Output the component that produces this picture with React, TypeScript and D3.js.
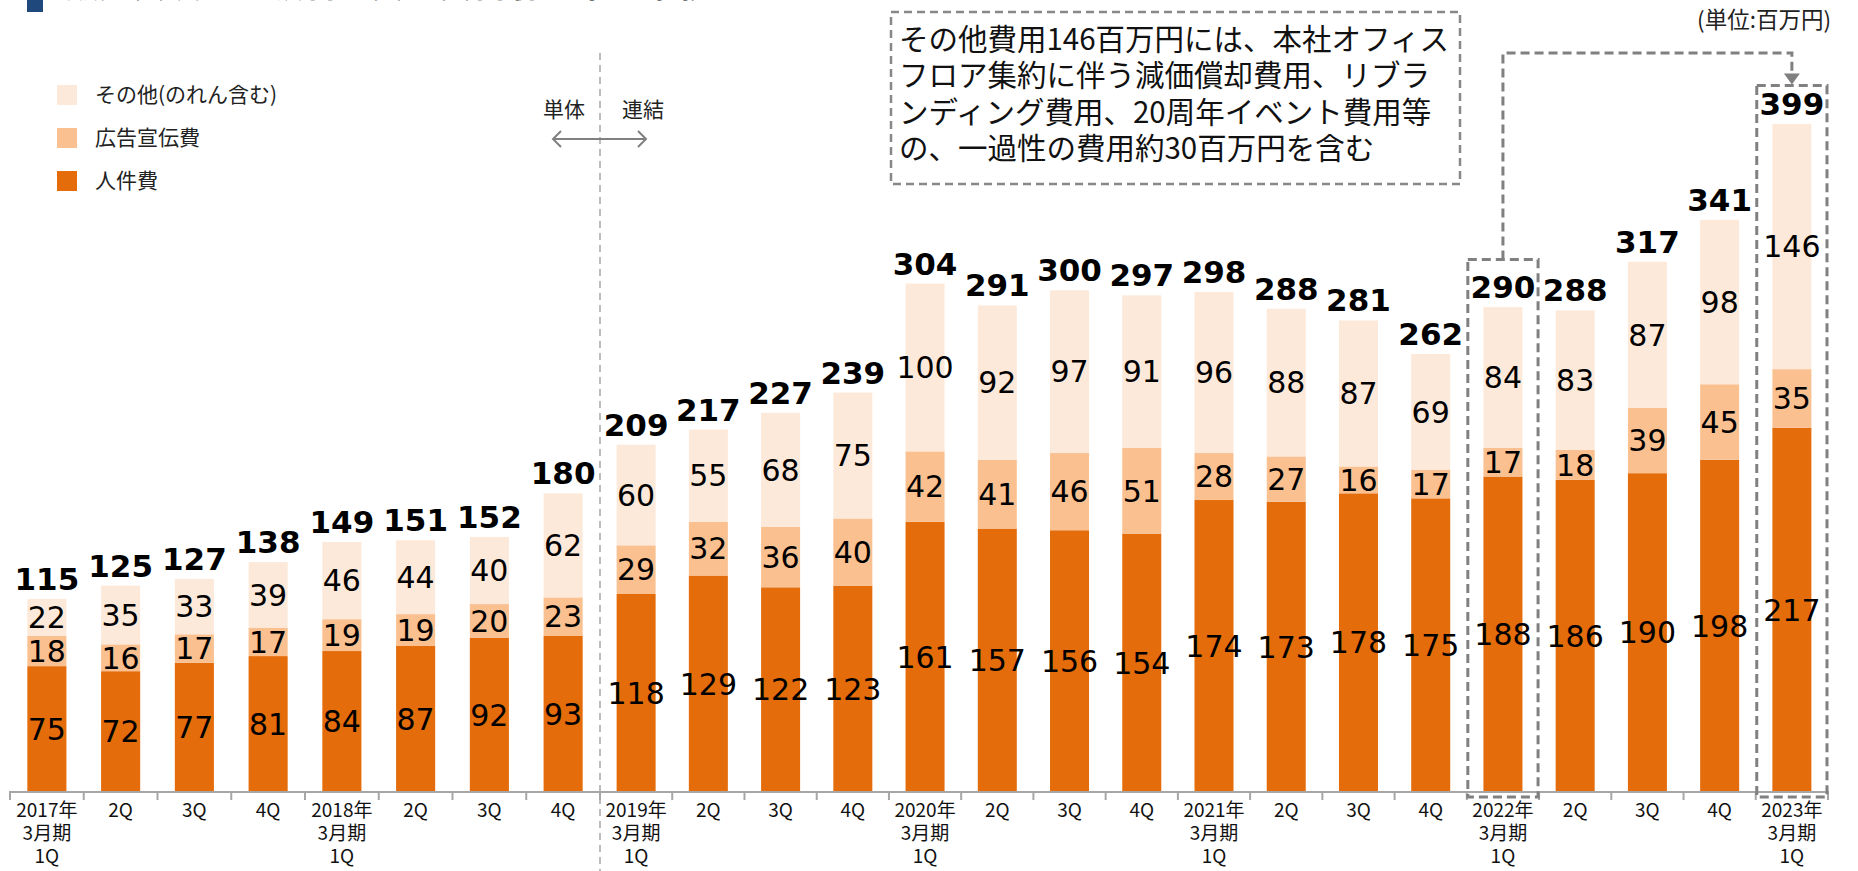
import * as d3 from 'd3';
import React, { useEffect, useRef } from 'react';

// 四半期ラベル(改行は \n)
const periods = [
  '2017年\n3月期\n1Q', '2Q', '3Q', '4Q',
  '2018年\n3月期\n1Q', '2Q', '3Q', '4Q',
  '2019年\n3月期\n1Q', '2Q', '3Q', '4Q',
  '2020年\n3月期\n1Q', '2Q', '3Q', '4Q',
  '2021年\n3月期\n1Q', '2Q', '3Q', '4Q',
  '2022年\n3月期\n1Q', '2Q', '3Q', '4Q',
  '2023年\n3月期\n1Q'
];

const personnel = [75, 72, 77, 81, 84, 87, 92, 93, 118, 129, 122, 123, 161, 157, 156, 154, 174, 173, 178, 175, 188, 186, 190, 198, 217];
const advertising = [18, 16, 17, 17, 19, 19, 20, 23, 29, 32, 36, 40, 42, 41, 46, 51, 28, 27, 16, 17, 17, 18, 39, 45, 35];
const others = [22, 35, 33, 39, 46, 44, 40, 62, 60, 55, 68, 75, 100, 92, 97, 91, 96, 88, 87, 69, 84, 83, 87, 98, 146];
const totals = [115, 125, 127, 138, 149, 151, 152, 180, 209, 217, 227, 239, 304, 291, 300, 297, 298, 288, 281, 262, 290, 288, 317, 341, 399];

const seriesNames = ['人件費', '広告宣伝費', 'その他(のれん含む)'];
const colors = ['#E46C0A', '#FAC090', '#FDE9D9'];

const noteLines = [
  'その他費用146百万円には、本社オフィス',
  'フロア集約に伴う減価償却費用、リブラ',
  'ンディング費用、20周年イベント費用等',
  'の、一過性の費用約30百万円を含む'
];

const soloCount = 8; // 単体の期間数
const jp = '"Noto Sans CJK JP", "Noto Sans", sans-serif';
const num = '"DejaVu Sans", Verdana, sans-serif';

export default function App() {
  const ref = useRef<SVGSVGElement>(null);

  const width = 1858;
  const height = 871;
  const baseY = 792;

  useEffect(() => {
    const svg = d3.select(ref.current);
    svg.selectAll('*').remove();

    const idx = periods.map((_, i) => String(i));
    // 単体と連結で棒の間隔が少し違う
    const xSolo = d3.scaleBand().domain(idx.slice(0, soloCount)).range([10, 600]).paddingInner(0.47).paddingOuter(0.235);
    const xCons = d3.scaleBand().domain(idx.slice(soloCount)).range([600, 1828]).paddingInner(0.46).paddingOuter(0.23);
    const xs = (i: number) => (i < soloCount ? xSolo : xCons);
    const bw = (i: number) => xs(i).bandwidth();
    const left = (i: number) => xs(i)(String(i)) as number;
    const cx = (i: number) => left(i) + bw(i) / 2;
    const bandStart = (i: number) => left(i) - (xs(i).step() * xs(i).paddingInner()) / 2;

    const y = d3.scaleLinear().domain([0, 400]).range([baseY, baseY - 400 * 1.678]);

    const table = periods.map((p, i) => ({ i, a: personnel[i], b: advertising[i], c: others[i] }));
    const stack = d3.stack<any>().keys(['a', 'b', 'c'])(table);

    // 棒
    stack.forEach((layer, k) => {
      svg.append('g')
        .selectAll('rect')
        .data(layer)
        .enter().append('rect')
        .attr('x', (d: any) => left(d.data.i))
        .attr('width', (d: any) => bw(d.data.i))
        .attr('y', (d: any) => y(d[1]))
        .attr('height', (d: any) => y(d[0]) - y(d[1]))
        .attr('fill', colors[k]);
    });

    // 内訳ラベル
    stack.forEach((layer) => {
      svg.append('g')
        .selectAll('text')
        .data(layer)
        .enter().append('text')
        .attr('x', (d: any) => cx(d.data.i))
        .attr('y', (d: any) => (y(d[0]) + y(d[1])) / 2)
        .attr('dy', '0.36em')
        .attr('text-anchor', 'middle')
        .attr('font-family', num)
        .attr('font-size', 30)
        .attr('fill', '#000')
        .text((d: any) => d[1] - d[0]);
    });

    // 合計ラベル
    svg.append('g')
      .selectAll('text')
      .data(totals)
      .enter().append('text')
      .attr('x', (d, i) => cx(i))
      .attr('y', (d, i) => y(stack[2][i][1]) - 9)
      .attr('text-anchor', 'middle')
      .attr('font-family', num)
      .attr('font-weight', 'bold')
      .attr('font-size', 31)
      .attr('fill', '#000')
      .text(d => d);

    // 軸
    const axis = svg.append('g').attr('stroke', '#a6a6a6').attr('stroke-width', 2);
    axis.append('line').attr('x1', 9).attr('x2', 1829).attr('y1', baseY).attr('y2', baseY);
    periods.forEach((p, i) => {
      axis.append('line').attr('x1', bandStart(i)).attr('x2', bandStart(i)).attr('y1', baseY).attr('y2', baseY + 8);
    });
    axis.append('line').attr('x1', 1828).attr('x2', 1828).attr('y1', baseY).attr('y2', baseY + 8);

    periods.forEach((p, i) => {
      p.split('\n').forEach((line, j) => {
        svg.append('text')
          .attr('x', cx(i))
          .attr('y', 817 + j * 23)
          .attr('text-anchor', 'middle')
          .attr('font-family', jp)
          .attr('font-size', 19)
          .attr('fill', '#111')
          .text(line);
      });
    });

    // 単体/連結の区切り
    svg.append('line')
      .attr('x1', 600).attr('x2', 600).attr('y1', 53).attr('y2', height)
      .attr('stroke', '#a6a6a6').attr('stroke-width', 1.5).attr('stroke-dasharray', '7,5');
    svg.append('text').attr('x', 564).attr('y', 117).attr('text-anchor', 'middle')
      .attr('font-family', jp).attr('font-size', 21).attr('fill', '#222').text('単体');
    svg.append('text').attr('x', 643).attr('y', 117).attr('text-anchor', 'middle')
      .attr('font-family', jp).attr('font-size', 21).attr('fill', '#222').text('連結');
    svg.append('path')
      .attr('d', 'M553,139 H646 M561,131 L553,139 L561,147 M638,131 L646,139 L638,147')
      .attr('fill', 'none').attr('stroke', '#808080').attr('stroke-width', 2);

    // 凡例
    const legendOrder = [2, 1, 0];
    legendOrder.forEach((k, j) => {
      const ly = 95 + j * 43;
      svg.append('rect').attr('x', 57).attr('y', ly - 10).attr('width', 20).attr('height', 20).attr('fill', colors[k]);
      svg.append('text').attr('x', 95).attr('y', ly).attr('dy', '0.35em')
        .attr('font-family', jp).attr('font-size', 21).attr('fill', '#222').text(seriesNames[k]);
    });

    // タイトル(上端で切れている)
    svg.append('rect').attr('x', 27).attr('y', 0).attr('width', 16).attr('height', 12).attr('fill', '#1F497D');
    svg.append('text').attr('x', 65).attr('y', -3)
      .attr('font-family', jp).attr('font-size', 34).attr('font-weight', 'bold').attr('fill', '#000')
      .text('販売費及び一般管理費の費目別四半期推移');

    // 単位
    svg.append('text').attr('x', 1831).attr('y', 28).attr('text-anchor', 'end')
      .attr('font-family', jp).attr('font-size', 22.5).attr('fill', '#222').text('(単位:百万円)');

    // 注記ボックス
    const dash = { stroke: '#808080', width: 3, array: '9,5' };
    svg.append('rect').attr('x', 891).attr('y', 12).attr('width', 569).attr('height', 172)
      .attr('fill', 'none').attr('stroke', '#888').attr('stroke-width', 2.5).attr('stroke-dasharray', '8,5');
    noteLines.forEach((line, j) => {
      svg.append('text').attr('x', 899).attr('y', 39 + j * 36.5).attr('dy', '0.36em')
        .attr('font-family', jp).attr('font-size', 29.5).attr('fill', '#111').text(line);
    });

    // 2022年1Q・2023年1Qの強調枠
    const hi = [20, 24];
    const boxTop = [y(totals[20]) - 46, y(totals[24]) - 37];
    hi.forEach((i, j) => {
      const x0 = bandStart(i) + 1;
      const x1 = bandStart(i) + xs(i).step() - 1;
      svg.append('rect').attr('x', x0).attr('y', boxTop[j]).attr('width', x1 - x0).attr('height', 797 - boxTop[j])
        .attr('fill', 'none').attr('stroke', dash.stroke).attr('stroke-width', dash.width).attr('stroke-dasharray', dash.array);
    });
    const fromX = cx(20);
    const toX = cx(24);
    svg.append('path')
      .attr('d', `M${fromX},${boxTop[0]} V53 H${toX} V${boxTop[1] - 11}`)
      .attr('fill', 'none').attr('stroke', dash.stroke).attr('stroke-width', dash.width).attr('stroke-dasharray', dash.array);
    svg.append('path')
      .attr('d', `M${toX - 8},${boxTop[1] - 12} L${toX + 8},${boxTop[1] - 12} L${toX},${boxTop[1] - 1} Z`)
      .attr('fill', dash.stroke);
  }, []);

  return (
    <svg
      ref={ref}
      width={width}
      height={height}
      style={{ position: 'absolute', left: 0, top: 0, background: '#fff' }}
    />
  );
}
